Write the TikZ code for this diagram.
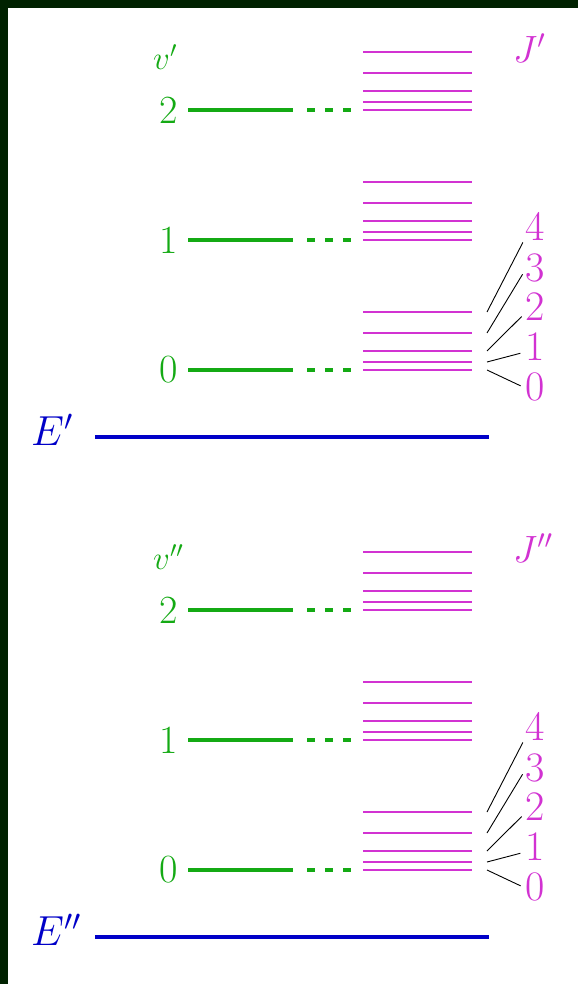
\RequirePackage{fix-cm}
\documentclass[tikz,border=0pt]{standalone}
\usepackage{tikz}
\usetikzlibrary{calc}

\definecolor{vibgreen}{RGB}{20,170,20}
\definecolor{rotpink}{RGB}{210,50,210}
\definecolor{levblue}{RGB}{0,0,200}
\definecolor{framegreen}{RGB}{0,34,0}

\tikzset{
  viblevel/.style={vibgreen, line width=4pt},
  vibdash/.style={vibgreen, line width=4pt, dash pattern=on 8pt off 10pt},
  rotlevel/.style={rotpink, line width=2pt},
  elevel/.style={levblue, line width=4pt},
  vlabel/.style={text=vibgreen, font=\fontsize{40}{40}\selectfont, inner sep=0pt},
  vhead/.style={text=vibgreen, font=\fontsize{33}{33}\selectfont, inner sep=0pt},
  jlabel/.style={text=rotpink, font=\fontsize{42}{42}\selectfont, inner sep=0pt},
  jhead/.style={text=rotpink, font=\fontsize{38}{38}\selectfont, inner sep=0pt},
  elabel/.style={text=levblue, font=\fontsize{42}{42}\selectfont, inner sep=0pt},
  jlink/.style={black, line width=0.9pt, shorten >=5pt}
}

\begin{document}
\begin{tikzpicture}[x=1pt, y=-1pt]

    % Frame
    \fill[white] (0,0) rectangle (578,984);
    \fill[framegreen] (0,0) rectangle (578,8);
    \fill[framegreen] (0,0) rectangle (8,984);
    \useasboundingbox (0,0) rectangle (578,984);

    % Upper and lower electronic states
    \foreach \dy/\pr/\nm in {0/{\prime}/u, 500/{\prime\prime}/l}{

        % Electronic level
        \node[elabel, anchor=west] (E\nm) at (31,430+\dy) {$E^{\pr}$};
        \draw[elevel] (95,437+\dy) -- (489,437+\dy);

        % Quantum number headers
        \node[vhead, anchor=west] (v\nm) at (153,57+\dy) {$v^{\pr}$};
        \node[jhead, anchor=west] (J\nm) at (513,48+\dy) {$J^{\pr}$};

        % Vibrational levels with rotational ladders
        \foreach \v/\y in {2/110, 1/240, 0/370}{
            \node[vlabel, anchor=east] (v\nm\v) at (178,\y+\dy) {\v};
            \draw[viblevel] (188,\y+\dy) -- (293,\y+\dy);
            \draw[vibdash] (307,\y+\dy) -- (353,\y+\dy);
            \foreach \J/\e in {0/0, 1/8, 2/19, 3/37, 4/58}
                \draw[rotlevel] (363,\y+\dy-\e) -- (472,\y+\dy-\e);
        }

        % J labels of the lowest ladder
        \foreach \J/\e/\ly/\o in {0/0/387/1, 1/8/347/5, 2/19/307/6, 3/37/268/2, 4/58/226/12}{
            \coordinate (r\nm\J) at (487,370+\dy-\e);
            \node[jlabel] (j\nm\J) at (535,\ly+\dy) {\J};
            \draw[jlink] (r\nm\J) -- ([yshift=-\o pt]j\nm\J.west);
        }
    }

\end{tikzpicture}
\end{document}
